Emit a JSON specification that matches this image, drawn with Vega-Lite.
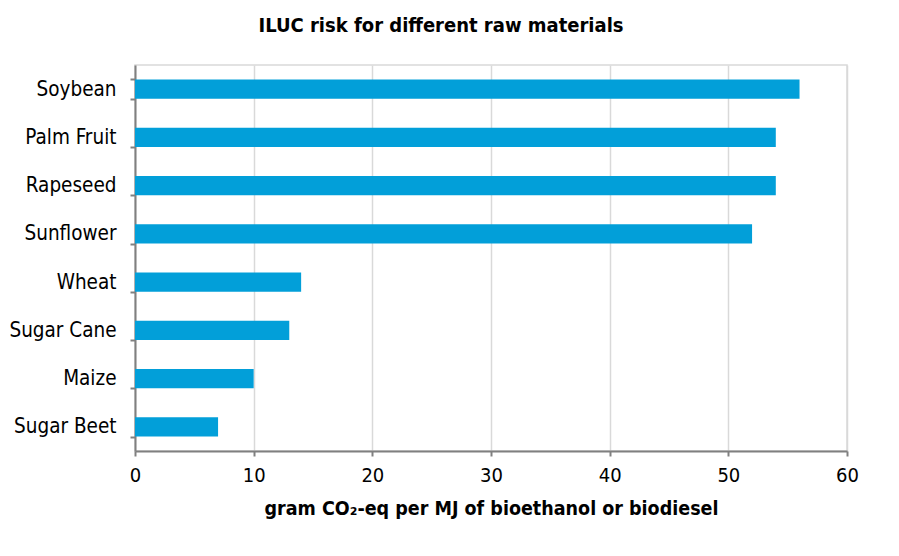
{
  "$schema": "https://vega.github.io/schema/vega-lite/v6.json",
  "width": 712,
  "height": 386,
  "autosize": "none",
  "padding": {"left": 135, "top": 65, "right": 52, "bottom": 105},
  "background": "white",
  "title": {
    "text": "ILUC risk for different raw materials",
    "font": "DejaVu Sans Condensed",
    "fontSize": 20,
    "fontWeight": "bold",
    "color": "#000000",
    "anchor": "middle",
    "dx": -50,
    "offset": 19
  },
  "data": {
    "values": [
      {"material": "Soybean", "value": 56},
      {"material": "Palm Fruit", "value": 54},
      {"material": "Rapeseed", "value": 54},
      {"material": "Sunflower", "value": 52},
      {"material": "Wheat", "value": 14},
      {"material": "Sugar Cane", "value": 13},
      {"material": "Maize", "value": 10},
      {"material": "Sugar Beet", "value": 7}
    ]
  },
  "mark": {"type": "bar", "color": "#029fd9"},
  "encoding": {
    "y": {
      "field": "material",
      "type": "nominal",
      "sort": null,
      "scale": {"paddingInner": 0.6, "paddingOuter": 0.3},
      "axis": {
        "title": null,
        "tickBand": "extent",
        "labelFont": "DejaVu Sans Condensed",
        "labelFontSize": 20.5,
        "labelColor": "#000000",
        "labelPadding": 14,
        "domainColor": "#808080",
        "domainWidth": 2,
        "tickColor": "#808080",
        "tickWidth": 2,
        "tickSize": 5,
        "grid": false
      }
    },
    "x": {
      "field": "value",
      "type": "quantitative",
      "scale": {"domain": [0, 60]},
      "axis": {
        "title": "gram CO₂-eq per MJ of bioethanol or biodiesel",
        "titleFont": "DejaVu Sans Condensed",
        "titleFontSize": 19.5,
        "titleFontWeight": "bold",
        "titleColor": "#000000",
        "titlePadding": 14,
        "values": [0, 10, 20, 30, 40, 50, 60],
        "labelFlush": false,
        "labelFont": "DejaVu Sans Condensed",
        "labelFontSize": 20,
        "labelColor": "#000000",
        "labelPadding": 9,
        "domainColor": "#808080",
        "domainWidth": 2,
        "tickColor": "#808080",
        "tickWidth": 2,
        "tickSize": 5,
        "grid": true,
        "gridColor": "#d9d9d9",
        "gridWidth": 1.5
      }
    }
  },
  "config": {
    "view": {"stroke": "#d9d9d9", "strokeWidth": 1.5}
  }
}
